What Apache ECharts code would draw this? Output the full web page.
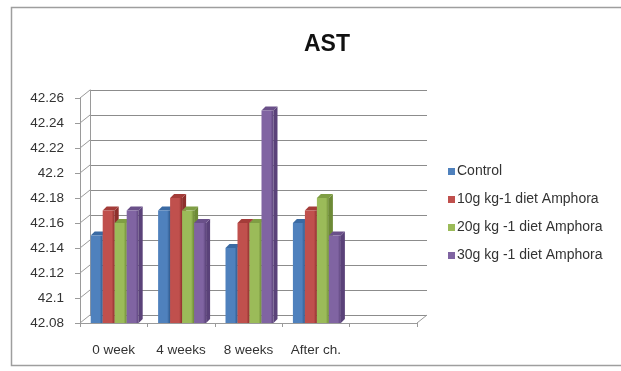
<!DOCTYPE html>
<html>
<head>
<meta charset="utf-8">
<script src="https://cdn.jsdelivr.net/npm/echarts@6/dist/echarts.min.js"></script>
<style>
  html, body { margin: 0; padding: 0; background: #ffffff; }
  #chart { width: 621px; height: 371px; }
</style>
</head>
<body>
<div id="chart"></div>
<script>
// AST readings per sampling time and diet group
const categories = ['0 week', '4 weeks', '8 weeks', 'After ch.'];
const seriesNames = ['Control', '10g kg-1 diet Amphora', '20g kg -1 diet Amphora', '30g kg -1 diet Amphora'];
const control = [42.15, 42.17, 42.14, 42.16];
const amphora10 = [42.17, 42.18, 42.16, 42.17];
const amphora20 = [42.16, 42.17, 42.16, 42.18];
const amphora30 = [42.17, 42.16, 42.25, 42.15];
const yMin = 42.08, yMax = 42.26, yStep = 0.02;

const faceColors = ['#4F81BD', '#C0504D', '#9BBB59', '#8064A2'];
const sideColors = ['#2f5a8e', '#8e2f2c', '#6d8a36', '#5a4279'];
const topColors  = ['#3a6aa3', '#a43c39', '#7f9e44', '#6a5089'];

const FONT = '"Liberation Sans", Arial, sans-serif';
const DEPTH = 4;      // bar depth offset (px)
const WALL_DX = 10, WALL_DY = -8;   // back wall offset from front axis

const chart = echarts.init(document.getElementById('chart'), null, { renderer: 'canvas' });

// one extra empty slot keeps the floor extending past the last group
const axisCats = categories.concat(['']);

function barRenderer(k) {
  return function (params, api) {
    const ci = api.value(0), v = api.value(1);
    const top = api.coord([ci, v]);
    const base = api.coord([ci, yMin]);
    const slot = api.size([1, 0])[0];
    const bw = slot * 0.178;
    const x0 = top[0] + (k - 1.5) * bw - bw / 2 + 1;
    const y0 = top[1], y1 = base[1];
    return {
      type: 'group',
      children: [
        { type: 'polygon', shape: { points: [[x0 + bw, y0], [x0 + bw + DEPTH, y0 - DEPTH], [x0 + bw + DEPTH, y1 - DEPTH], [x0 + bw, y1]] },
          style: { fill: sideColors[k] } },
        { type: 'polygon', shape: { points: [[x0, y0], [x0 + DEPTH, y0 - DEPTH], [x0 + bw + DEPTH, y0 - DEPTH], [x0 + bw, y0]] },
          style: { fill: topColors[k] } },
        { type: 'rect', shape: { x: x0, y: y0, width: bw, height: y1 - y0 },
          style: { fill: new echarts.graphic.LinearGradient(0, 0, 1, 0, [
            { offset: 0, color: faceColors[k] },
            { offset: 0.75, color: faceColors[k] },
            { offset: 1, color: sideColors[k] }
          ]) } }
      ]
    };
  };
}

const groups = [control, amphora10, amphora20, amphora30];
const barSeries = groups.map((vals, k) => ({
  name: seriesNames[k],
  type: 'custom',
  xAxisIndex: 0,
  yAxisIndex: 0,
  itemStyle: { color: faceColors[k] },
  renderItem: barRenderer(k),
  encode: { x: 0, y: 1 },
  data: vals.map((v, i) => [i, v]),
  z: 5
}));

// connectors from the front value axis ticks to the back wall gridlines
const tickValues = [];
for (let t = yMin; t <= yMax + 1e-9; t += yStep) tickValues.push(+t.toFixed(2));
const wallLinks = {
  type: 'custom',
  xAxisIndex: 0,
  yAxisIndex: 0,
  silent: true,
  data: tickValues.map(t => [0, t]),
  encode: { x: 0, y: 1 },
  renderItem: function (params, api) {
    const p = api.coord([0, api.value(1)]);
    const slot = api.size([1, 0])[0];
    const x = p[0] - slot / 2;
    return {
      type: 'line',
      shape: { x1: x, y1: p[1], x2: x + WALL_DX, y2: p[1] + WALL_DY },
      style: { stroke: '#9a9a9a', lineWidth: 1 }
    };
  },
  z: 1
};

// right edge of the floor
const floorEdge = {
  type: 'custom',
  xAxisIndex: 0,
  yAxisIndex: 0,
  silent: true,
  data: [[axisCats.length - 1, yMin]],
  encode: { x: 0, y: 1 },
  renderItem: function (params, api) {
    const p = api.coord([api.value(0), yMin]);
    const slot = api.size([1, 0])[0];
    const x = p[0] + slot / 2;
    return {
      type: 'line',
      shape: { x1: x, y1: p[1], x2: x + WALL_DX, y2: p[1] + WALL_DY },
      style: { stroke: '#9a9a9a', lineWidth: 1 }
    };
  },
  z: 1
};

const option = {
  backgroundColor: '#ffffff',
  animation: false,
  title: {
    text: 'AST',
    left: 322,
    top: 28,
    textAlign: 'center',
    textStyle: { fontFamily: FONT, fontSize: 23, fontWeight: 'bold', color: '#111111' }
  },
  legend: {
    orient: 'vertical',
    left: 443,
    top: 158,
    itemGap: 11,
    itemWidth: 7,
    itemHeight: 7,
    icon: 'rect',
    data: seriesNames,
    textStyle: { fontFamily: FONT, fontSize: 14, lineHeight: 17, color: '#333333', padding: [0, 0, 0, -3] }
  },
  grid: [
    { left: 80, right: 204, top: 98, bottom: 48 },
    { left: 80 + WALL_DX, right: 204 - WALL_DX, top: 98 + WALL_DY, bottom: 48 - WALL_DY }
  ],
  xAxis: [
    {
      type: 'category', gridIndex: 0, data: axisCats,
      axisLine: { lineStyle: { color: '#9a9a9a' } },
      axisTick: { show: true, length: 4, lineStyle: { color: '#9a9a9a' } },
      axisLabel: { fontFamily: FONT, fontSize: 13.5, color: '#333333', margin: 20 },
      splitLine: { show: false }
    },
    {
      type: 'category', gridIndex: 1, data: axisCats,
      axisLine: { show: false }, axisTick: { show: false }, axisLabel: { show: false },
      splitLine: { show: false }
    }
  ],
  yAxis: [
    {
      type: 'value', gridIndex: 0, min: yMin, max: yMax, interval: yStep,
      axisLine: { show: true, lineStyle: { color: '#9a9a9a' } },
      axisTick: { show: true, length: 5, lineStyle: { color: '#9a9a9a' } },
      axisLabel: { fontFamily: FONT, fontSize: 13.5, color: '#333333', margin: 16 },
      splitLine: { show: false }
    },
    {
      type: 'value', gridIndex: 1, min: yMin, max: yMax, interval: yStep,
      axisLine: { show: true, lineStyle: { color: '#9a9a9a' } },
      axisTick: { show: false }, axisLabel: { show: false },
      splitLine: { show: true, lineStyle: { color: '#8c8c8c', width: 1 } }
    }
  ],
  graphic: [
    {
      type: 'rect',
      shape: { x: 11.5, y: 7.5, width: 700, height: 358 },
      style: { fill: 'none', stroke: '#9e9e9e', lineWidth: 1.5 },
      silent: true, z: -1
    }
  ],
  series: [wallLinks, floorEdge].concat(barSeries)
};

chart.setOption(option);
</script>
</body>
</html>
